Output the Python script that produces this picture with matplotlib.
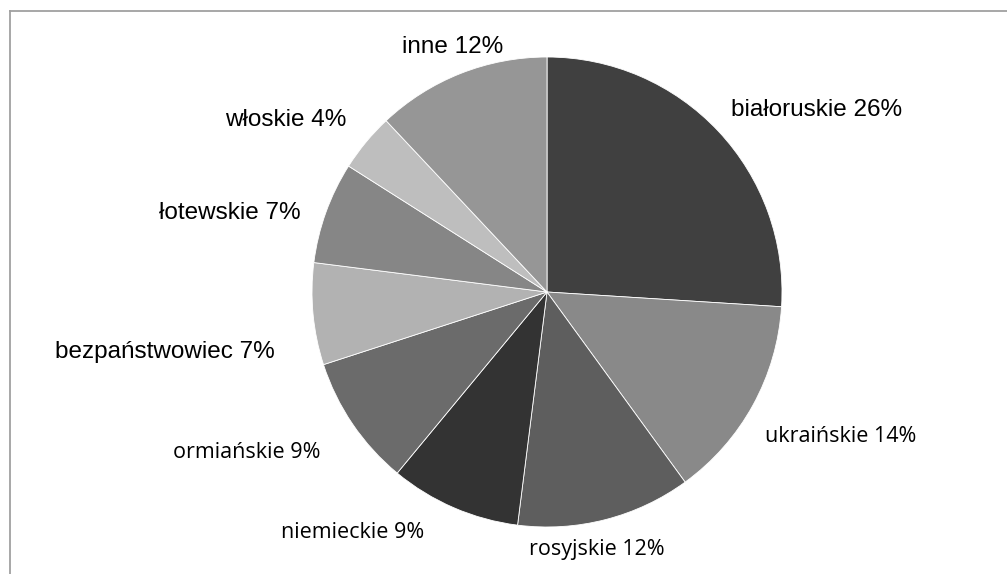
import matplotlib
matplotlib.use("Agg")
import matplotlib.pyplot as plt
from matplotlib.lines import Line2D

labels = ["białoruskie", "ukraińskie", "rosyjskie", "niemieckie", "ormiańskie",
          "bezpaństwowiec", "łotewskie", "włoskie", "inne"]
values = [26, 14, 12, 9, 9, 7, 7, 4, 12]
colors = ["#404040", "#898989", "#5e5e5e", "#333333", "#6b6b6b",
          "#b2b2b2", "#868686", "#bebebe", "#969696"]
# label anchor points (pixel coords, from top-left) and fonts
label_pos = [(817, 110), (841, 436), (597, 550), (353, 533), (247, 453),
             (165, 352), (230, 213), (286, 120), (453, 47)]
label_font = ["Liberation Sans", "Open Sans", "Open Sans", "Open Sans", "Open Sans",
              "Liberation Sans", "Liberation Sans", "Liberation Sans", "Liberation Sans"]

W, H = 1007, 574
fig = plt.figure(figsize=(W / 100, H / 100), dpi=100)
ax = fig.add_axes([0, 0, 1, 1])
ax.set_xlim(0, W)
ax.set_ylim(0, H)
ax.set_aspect("equal")
ax.axis("off")

ax.pie(values, colors=colors, startangle=90, counterclock=False,
       center=(547, H - 292), radius=235,
       wedgeprops=dict(edgecolor="white", linewidth=0.6))
ax.set_xlim(0, W)
ax.set_ylim(0, H)

for lab, v, (x, y), f in zip(labels, values, label_pos, label_font):
    fs = 17.5 if f == "Liberation Sans" else 15.5
    ax.text(x, H - y, f"{lab} {v}%", ha="center", va="center",
            fontsize=fs, family=[f, "DejaVu Sans"], color="black")

# frame (left and top visible)
fig.add_artist(Line2D([10 / W, 10 / W], [0, 1 - 11 / H], transform=fig.transFigure,
                      color="#a0a0a0", linewidth=1.3))
fig.add_artist(Line2D([10 / W, 1], [1 - 11 / H, 1 - 11 / H], transform=fig.transFigure,
                      color="#a0a0a0", linewidth=1.3))

fig.savefig("out.png", dpi=100, facecolor="white")
